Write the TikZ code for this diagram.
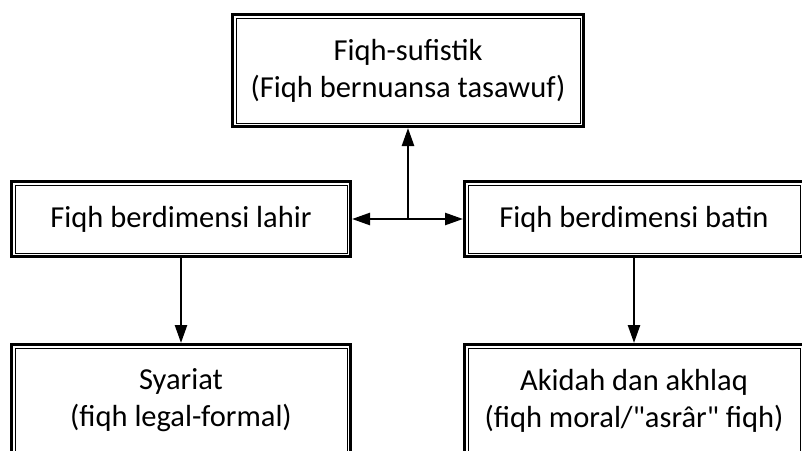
\documentclass[tikz,border=0pt]{standalone}
\usepackage{fontspec}
\setmainfont{Carlito}[Ligatures=TeXOff]
\usetikzlibrary{arrows.meta}
\begin{document}
\begin{tikzpicture}[x=1pt,y=-1pt,
  dbox/.style={draw, line width=3pt, rectangle, inner sep=0pt, outer sep=1.5pt,
    align=center, font=\fontsize{30.5}{37}\selectfont},
  tip/.tip={Triangle[width=12pt,length=18pt]},
  conn/.style={line width=2.5pt, -tip},
  biconn/.style={line width=2.5pt, tip-tip},
  inner/.style={line width=1pt}
]
\useasboundingbox (0,0) rectangle (802,450);
\clip (0,0) rectangle (802,450);
\node[dbox, minimum width=351pt, minimum height=112pt] (top) at (408,70.5)
  {Fiqh-sufistik\\(Fiqh bernuansa tasawuf)};
\node[dbox, minimum width=339pt, minimum height=75pt] (ml) at (181,219)
  {Fiqh berdimensi lahir};
\node[dbox, minimum width=339pt, minimum height=75pt] (mr) at (634,219)
  {Fiqh berdimensi batin};
\node[dbox, minimum width=339pt, minimum height=112pt] (bl) at (181,400.5)
  {Syariat\\(fiqh legal-formal)};
\node[dbox, minimum width=339pt, minimum height=112pt] (br) at (634,400.5)
  {Akidah dan akhlaq\\(fiqh moral/"asrâr" fiqh)};
\foreach \n in {top,ml,mr,bl,br}
  \draw[inner] ([shift={(5pt,-5pt)}]\n.north west) rectangle ([shift={(-5pt,5pt)}]\n.south east);
\coordinate (j) at (top.south |- ml.east);
\draw[conn] (j) -- (top.south);
\draw[biconn] (ml.east) -- (mr.west);
\draw[conn] (ml.south) -- (bl.north);
\draw[conn] (mr.south) -- (br.north);
\end{tikzpicture}
\end{document}
